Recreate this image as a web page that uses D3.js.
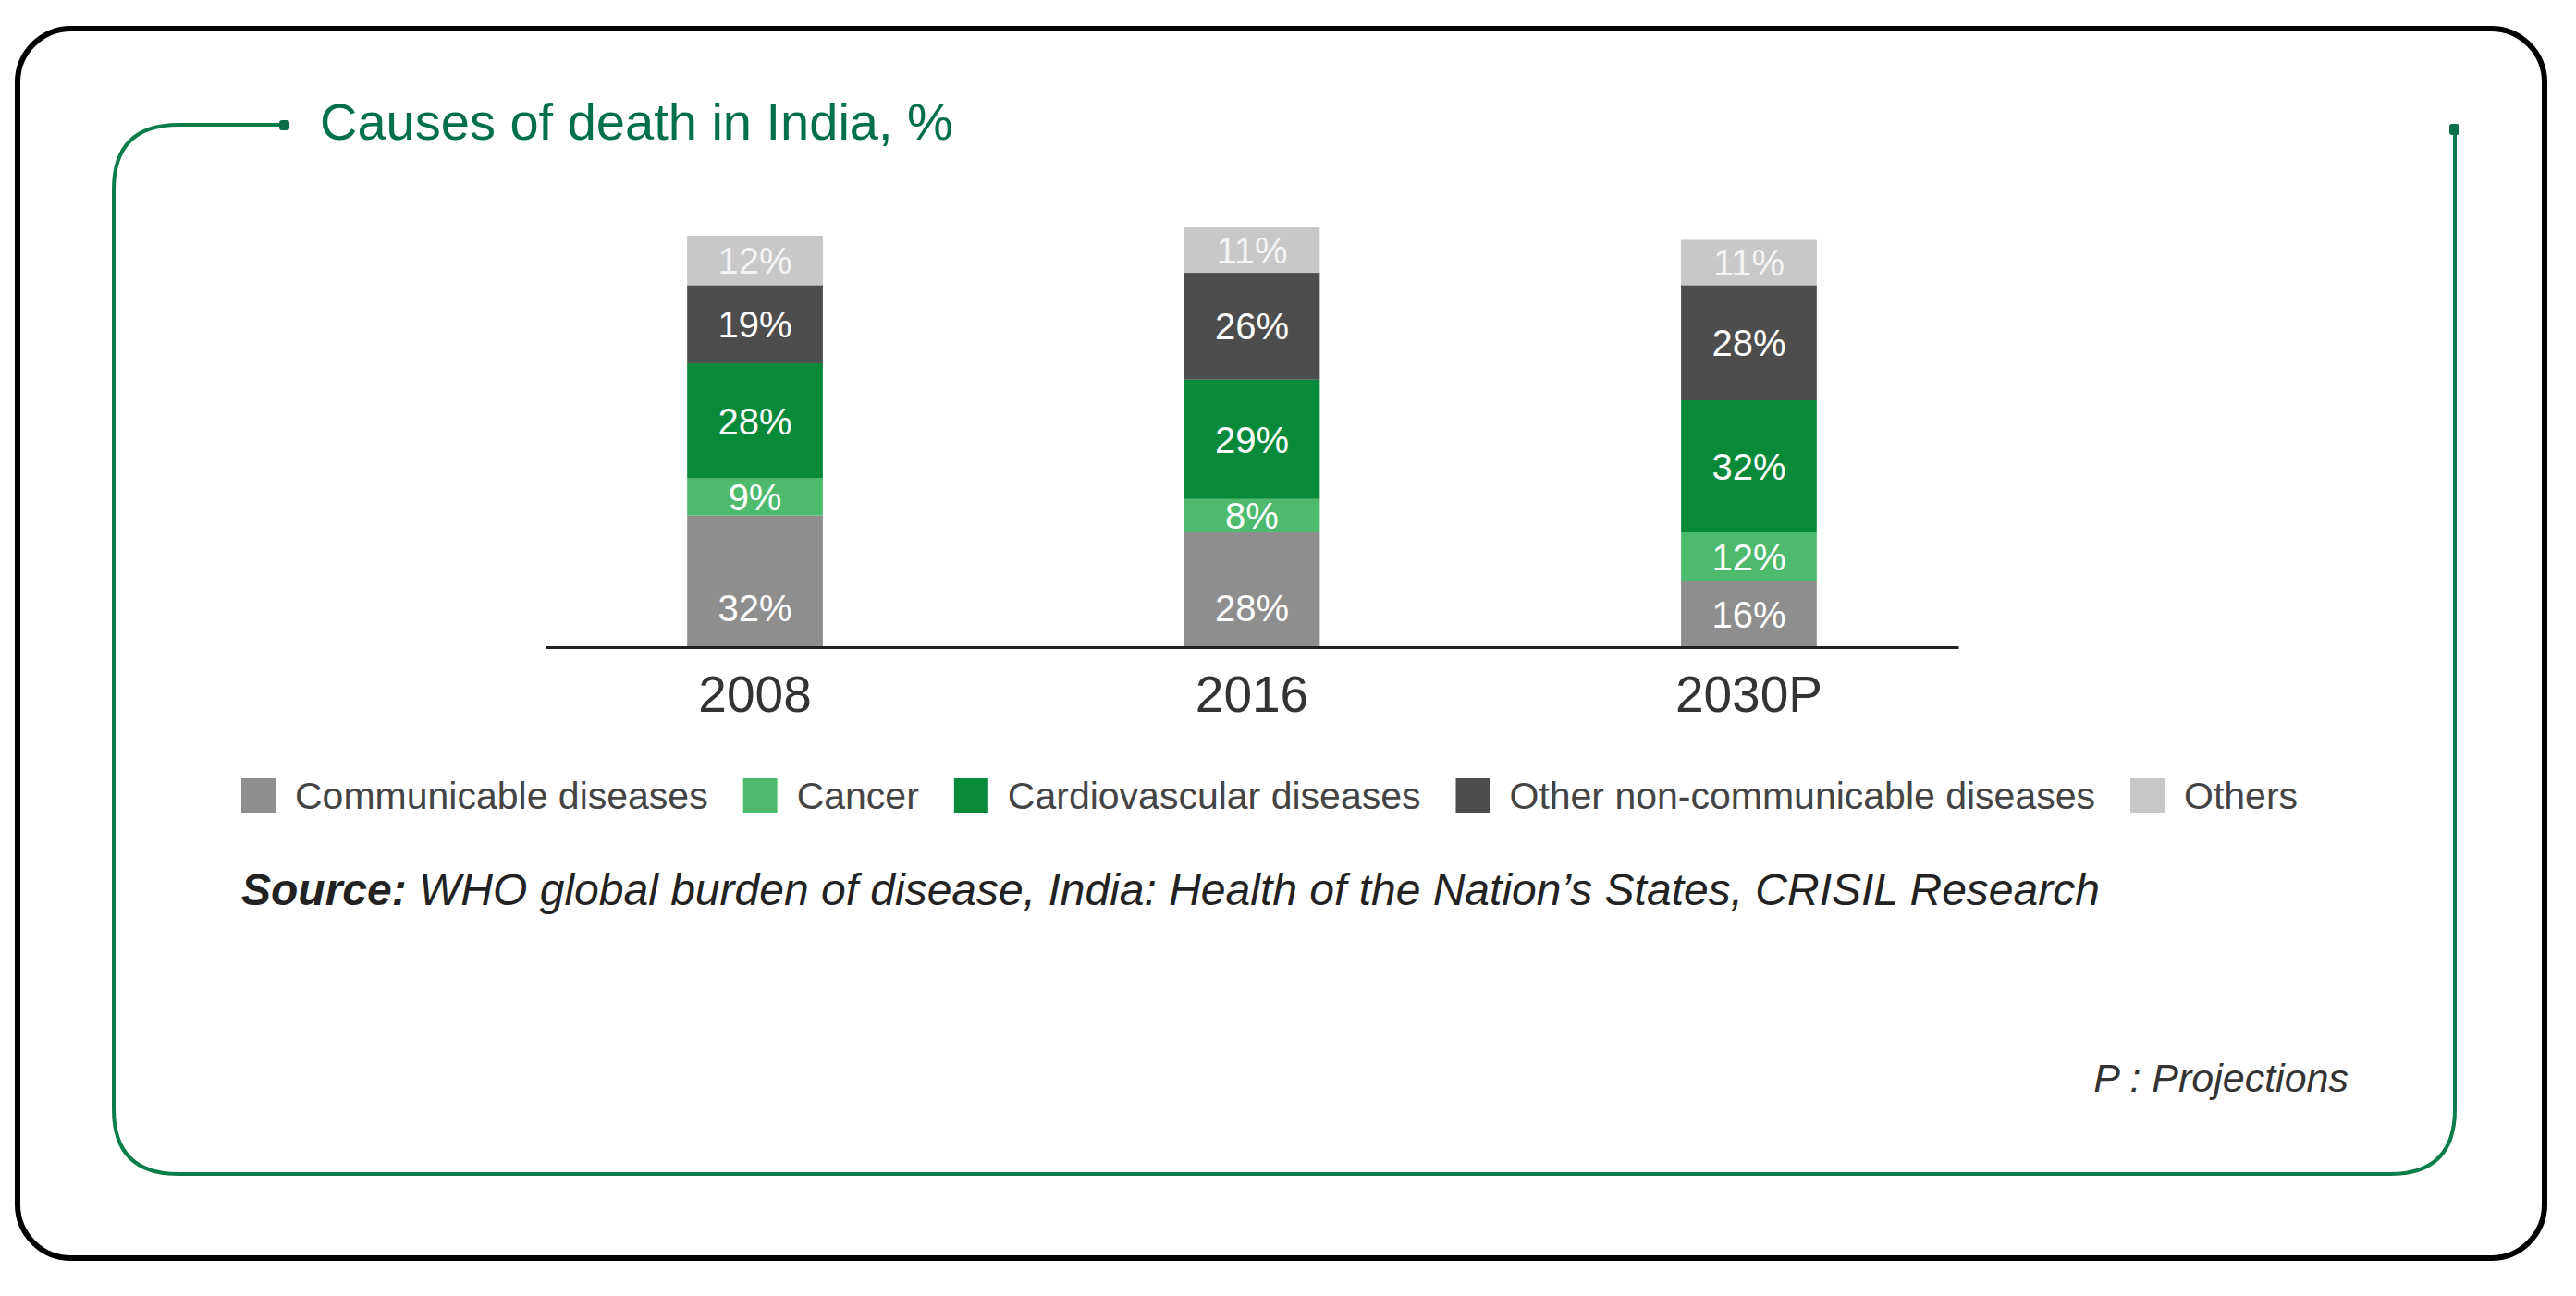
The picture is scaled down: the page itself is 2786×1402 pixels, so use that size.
<!DOCTYPE html>
<html>
<head>
<meta charset="utf-8">
<script src="https://cdn.jsdelivr.net/npm/d3@7"></script>
<style>
  body { margin: 0; background: #fff; }
  svg { display: block; font-family: "Liberation Sans", Arial, sans-serif; }
</style>
</head>
<body>
<div id="chart"></div>
<script>
var width = 2786, height = 1402;

var years = ["2008", "2016", "2030P"];
var causes = ["Communicable diseases", "Cancer", "Cardiovascular diseases", "Other non-communicable diseases", "Others"];
var communicable = [32, 28, 16];
var cancer = [9, 8, 12];
var cardio = [28, 29, 32];
var otherNcd = [19, 26, 28];
var others = [12, 11, 11];
var colors = ["#8e8e8e", "#4dba6e", "#098a3b", "#4d4d4d", "#c8c8c8"];

var rows = years.map(function(y, i) {
    return {year: y, "Communicable diseases": communicable[i], "Cancer": cancer[i],
        "Cardiovascular diseases": cardio[i], "Other non-communicable diseases": otherNcd[i], "Others": others[i]};
});

var svg = d3.select("#chart").append("svg").attr("width", width).attr("height", height);

// outer black frame
svg.append("rect")
    .attr("x", 19).attr("y", 31).attr("width", 2733).attr("height", 1330)
    .attr("rx", 58).attr("ry", 58)
    .style("fill", "none").style("stroke", "#000").style("stroke-width", 6);

// green frame with the open corner
var gl = 123, gt = 135, gr = 2655, gb = 1270, r = 70;
svg.append("path")
    .attr("d", "M309," + gt + " L" + (gl + r) + "," + gt +
        " Q" + gl + "," + gt + " " + gl + "," + (gt + r) +
        " L" + gl + "," + (gb - r) +
        " Q" + gl + "," + gb + " " + (gl + r) + "," + gb +
        " L" + (gr - r) + "," + gb +
        " Q" + gr + "," + gb + " " + gr + "," + (gb - r) +
        " L" + gr + ",142")
    .style("fill", "none").style("stroke", "#0a7d4b").style("stroke-width", 4);
svg.append("rect").attr("x", 302).attr("y", 130).attr("width", 11).attr("height", 11).attr("rx", 3).style("fill", "#0a6e48");
svg.append("rect").attr("x", gr - 6).attr("y", 134).attr("width", 11).attr("height", 12).attr("rx", 3).style("fill", "#0a6e48");

svg.append("text")
    .attr("x", 346).attr("y", 151)
    .style("font-size", "56px").style("fill", "#00704a")
    .text("Causes of death in India, %");

var x = d3.scaleBand().domain(years).range([590, 2118]).paddingInner(0.727).paddingOuter(0.285);
var y = d3.scaleLinear().domain([0, 100]).range([700, 255]);

var series = d3.stack().keys(causes)(rows);

var g = svg.append("g");
series.forEach(function(s, k) {
    g.append("g")
        .selectAll("rect")
        .data(s)
        .enter()
        .append("rect")
        .attr("x", d => x(d.data.year))
        .attr("y", d => y(d[1]))
        .attr("width", x.bandwidth())
        .attr("height", d => y(d[0]) - y(d[1]))
        .style("fill", colors[k]);

    g.append("g")
        .selectAll("text")
        .data(s)
        .enter()
        .append("text")
        .attr("x", d => x(d.data.year) + x.bandwidth() / 2)
        .attr("y", d => {
            var mid = (y(d[0]) + y(d[1])) / 2;
            // bottom labels sit near the axis
            return k == 0 ? Math.max(mid, y(0) - 42) : mid; })
        .attr("dy", "0.36em")
        .style("text-anchor", "middle")
        .style("font-size", "40px")
        .style("fill", k == 4 ? "#f4f4f4" : "#fff")
        .text(d => (d[1] - d[0]) + "%");
});

var xAxis = svg.append("g")
    .attr("transform", "translate(0,700)")
    .call(d3.axisBottom(x).tickSize(0).tickPadding(31));
xAxis.select(".domain").style("stroke", "#222").style("stroke-width", 3);
xAxis.selectAll("text").style("font-size", "55px").style("fill", "#333").style("font-family", "\"Liberation Sans\", Arial, sans-serif");

// legend
var legend = svg.append("g").attr("transform", "translate(261,842)");
var lx = 0;
causes.forEach(function(c, i) {
    legend.append("rect").attr("x", lx).attr("y", 0).attr("width", 37).attr("height", 37).style("fill", colors[i]);
    var t = legend.append("text")
        .attr("x", lx + 58).attr("y", 33)
        .style("font-size", "41px").style("fill", "#444")
        .text(c);
    lx += 58 + t.node().getComputedTextLength() + 38;
});

var src = svg.append("text")
    .attr("x", 261).attr("y", 979)
    .style("font-size", "48px").style("font-style", "italic").style("fill", "#222");
src.append("tspan").style("font-weight", "bold").text("Source:");
src.append("tspan").text(" WHO global burden of disease, India: Health of the Nation\u2019s States, CRISIL Research");

svg.append("text")
    .attr("x", 2540).attr("y", 1181)
    .style("text-anchor", "end")
    .style("font-size", "43px").style("font-style", "italic").style("fill", "#333")
    .text("P : Projections");
</script>
</body>
</html>
